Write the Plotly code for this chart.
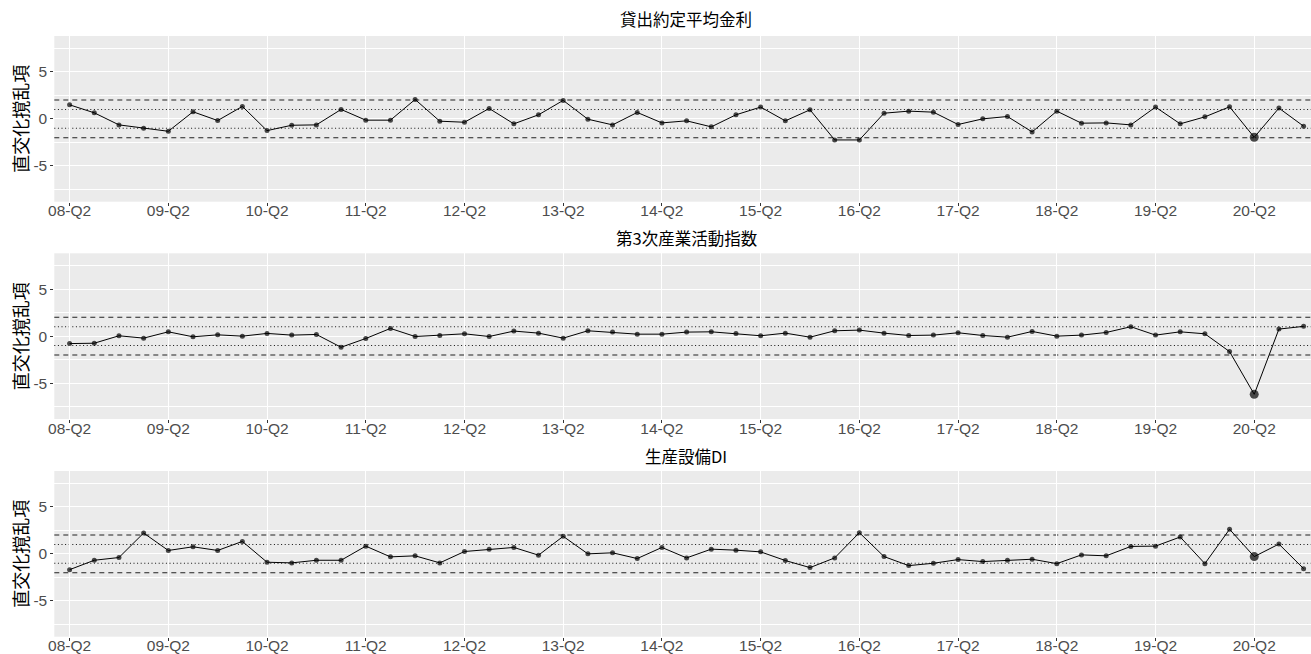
import plotly.graph_objects as go

# Quarter labels 08-Q2 ... 20-Q4
quarters = [f"{y:02d}-Q{q}" for y in range(8, 21) for q in range(1, 5)][1:]
highlight_quarter = "20-Q2"

titles = ["貸出約定平均金利", "第3次産業活動指数", "生産設備DI"]

lending_rate = [
    1.49, 0.64, -0.64, -1.0, -1.32, 0.75, -0.18, 1.32, -1.25, -0.68, -0.64, 1.0,
    -0.14, -0.14, 2.06, -0.25, -0.36, 1.10, -0.53, 0.43, 1.96, -0.04, -0.64, 0.68,
    -0.43, -0.21, -0.85, 0.43, 1.25, -0.21, 0.96, -2.24, -2.24, 0.6, 0.82, 0.71,
    -0.6, 0.0, 0.25, -1.39, 0.82, -0.46, -0.43, -0.64, 1.25, -0.53, 0.21, 1.28,
    -1.96, 1.14, -0.78,
]
tertiary_index = [
    -0.79, -0.75, 0.04, -0.21, 0.46, -0.07, 0.14, 0.0, 0.29, 0.11, 0.18, -1.18,
    -0.25, 0.82, -0.04, 0.07, 0.25, -0.04, 0.54, 0.32, -0.21, 0.57, 0.43, 0.21,
    0.21, 0.43, 0.46, 0.29, 0.04, 0.32, -0.11, 0.57, 0.64, 0.32, 0.07, 0.11,
    0.36, 0.07, -0.11, 0.5, 0.0, 0.11, 0.39, 1.0, 0.11, 0.46, 0.25, -1.64,
    -6.18, 0.75, 1.04,
]
equipment_di = [
    -1.68, -0.68, -0.39, 2.21, 0.36, 0.75, 0.36, 1.32, -0.89, -0.96, -0.68, -0.68,
    0.82, -0.32, -0.21, -0.96, 0.25, 0.5, 0.68, -0.14, 1.86, 0.0, 0.11, -0.5,
    0.68, -0.43, 0.5, 0.39, 0.21, -0.71, -1.46, -0.43, 2.25, -0.29, -1.25, -1.0,
    -0.61, -0.82, -0.68, -0.57, -1.04, -0.11, -0.21, 0.79, 0.82, 1.79, -1.04, 2.61,
    -0.29, 1.04, -1.57,
]
series = [lending_rate, tertiary_index, equipment_di]

band_outer = [-2, 2]
band_inner = [-1, 1]
y_ticks = [-5, 0, 5]
y_minor = [-7.5, -2.5, 2.5, 7.5]

W, H = 1311, 654
x_left = 54.3
panel_px = [(36, 201.7), (253.3, 419), (471, 636.7)]
title_px = [18.5, 238, 456]

idx = list(range(len(quarters)))
tick_idx = [i for i, q in enumerate(quarters) if q.endswith("Q2")]
tick_txt = [quarters[i] for i in tick_idx]

CJK = "Noto Sans CJK JP"
LAT = "Liberation Sans, Arial"

fig = go.Figure()
layout = dict(
    width=W, height=H, margin=dict(l=0, r=0, t=0, b=0),
    paper_bgcolor="white", plot_bgcolor="#EBEBEB", showlegend=False,
    shapes=[], annotations=[],
)

for k, vals in enumerate(series):
    n = "" if k == 0 else str(k + 1)
    xa, ya = "x" + n, "y" + n
    top, bot = panel_px[k]
    sizes = [9 if q == highlight_quarter else 5 for q in quarters]
    fig.add_trace(go.Scatter(
        x=idx, y=vals, mode="lines+markers", xaxis=xa, yaxis=ya,
        line=dict(color="black", width=1),
        marker=dict(color="black", size=sizes, line=dict(width=0)),
        hoverinfo="skip",
    ))
    layout["xaxis" + n] = dict(
        domain=[x_left / W, 1], range=[-0.62, 50.3], anchor=ya,
        tickmode="array", tickvals=tick_idx, ticktext=tick_txt,
        showgrid=True, gridcolor="white", gridwidth=1.1,
        zeroline=False, showline=False,
        ticks="outside", ticklen=3, tickwidth=1, tickcolor="#333333",
        ticklabelstandoff=-8,
        tickfont=dict(family=LAT, size=15.5, color="#4D4D4D"),
        automargin=False,
    )
    layout["yaxis" + n] = dict(
        domain=[1 - bot / H, 1 - top / H], range=[-8.8, 8.8], anchor=xa,
        tickmode="array", tickvals=y_ticks, ticktext=[str(v) for v in y_ticks],
        showgrid=True, gridcolor="white", gridwidth=1.1,
        minor=dict(tickvals=y_minor, showgrid=True, gridcolor="white",
                   gridwidth=0.55, ticklen=0),
        zeroline=False, showline=False,
        ticks="outside", ticklen=3, tickwidth=1, tickcolor="#333333",
        tickfont=dict(family=LAT, size=15.5, color="#4D4D4D"),
        automargin=False,
    )
    for v in band_outer:
        layout["shapes"].append(dict(
            type="line", xref=xa + " domain", yref=ya, x0=0, x1=1, y0=v, y1=v,
            line=dict(color="#222222", width=1.1, dash="5px,4px"), layer="below",
        ))
    for v in band_inner:
        layout["shapes"].append(dict(
            type="line", xref=xa + " domain", yref=ya, x0=0, x1=1, y0=v, y1=v,
            line=dict(color="#111111", width=1.1, dash="1px,2.6px"), layer="below",
        ))
    layout["annotations"].append(dict(
        text=titles[k], xref="paper", yref="paper",
        x=686 / W, y=1 - title_px[k] / H, xanchor="center", yanchor="middle",
        showarrow=False, font=dict(family=CJK, size=16.5, color="black"),
    ))
    layout["annotations"].append(dict(
        text="直交化撹乱項", xref="paper", yref="paper", textangle=-90,
        x=20 / W, y=1 - (top + bot) / 2 / H, xanchor="center", yanchor="middle",
        showarrow=False, font=dict(family=CJK, size=18, color="black"),
    ))

fig.update_layout(**layout)
fig.write_html("out.html")
